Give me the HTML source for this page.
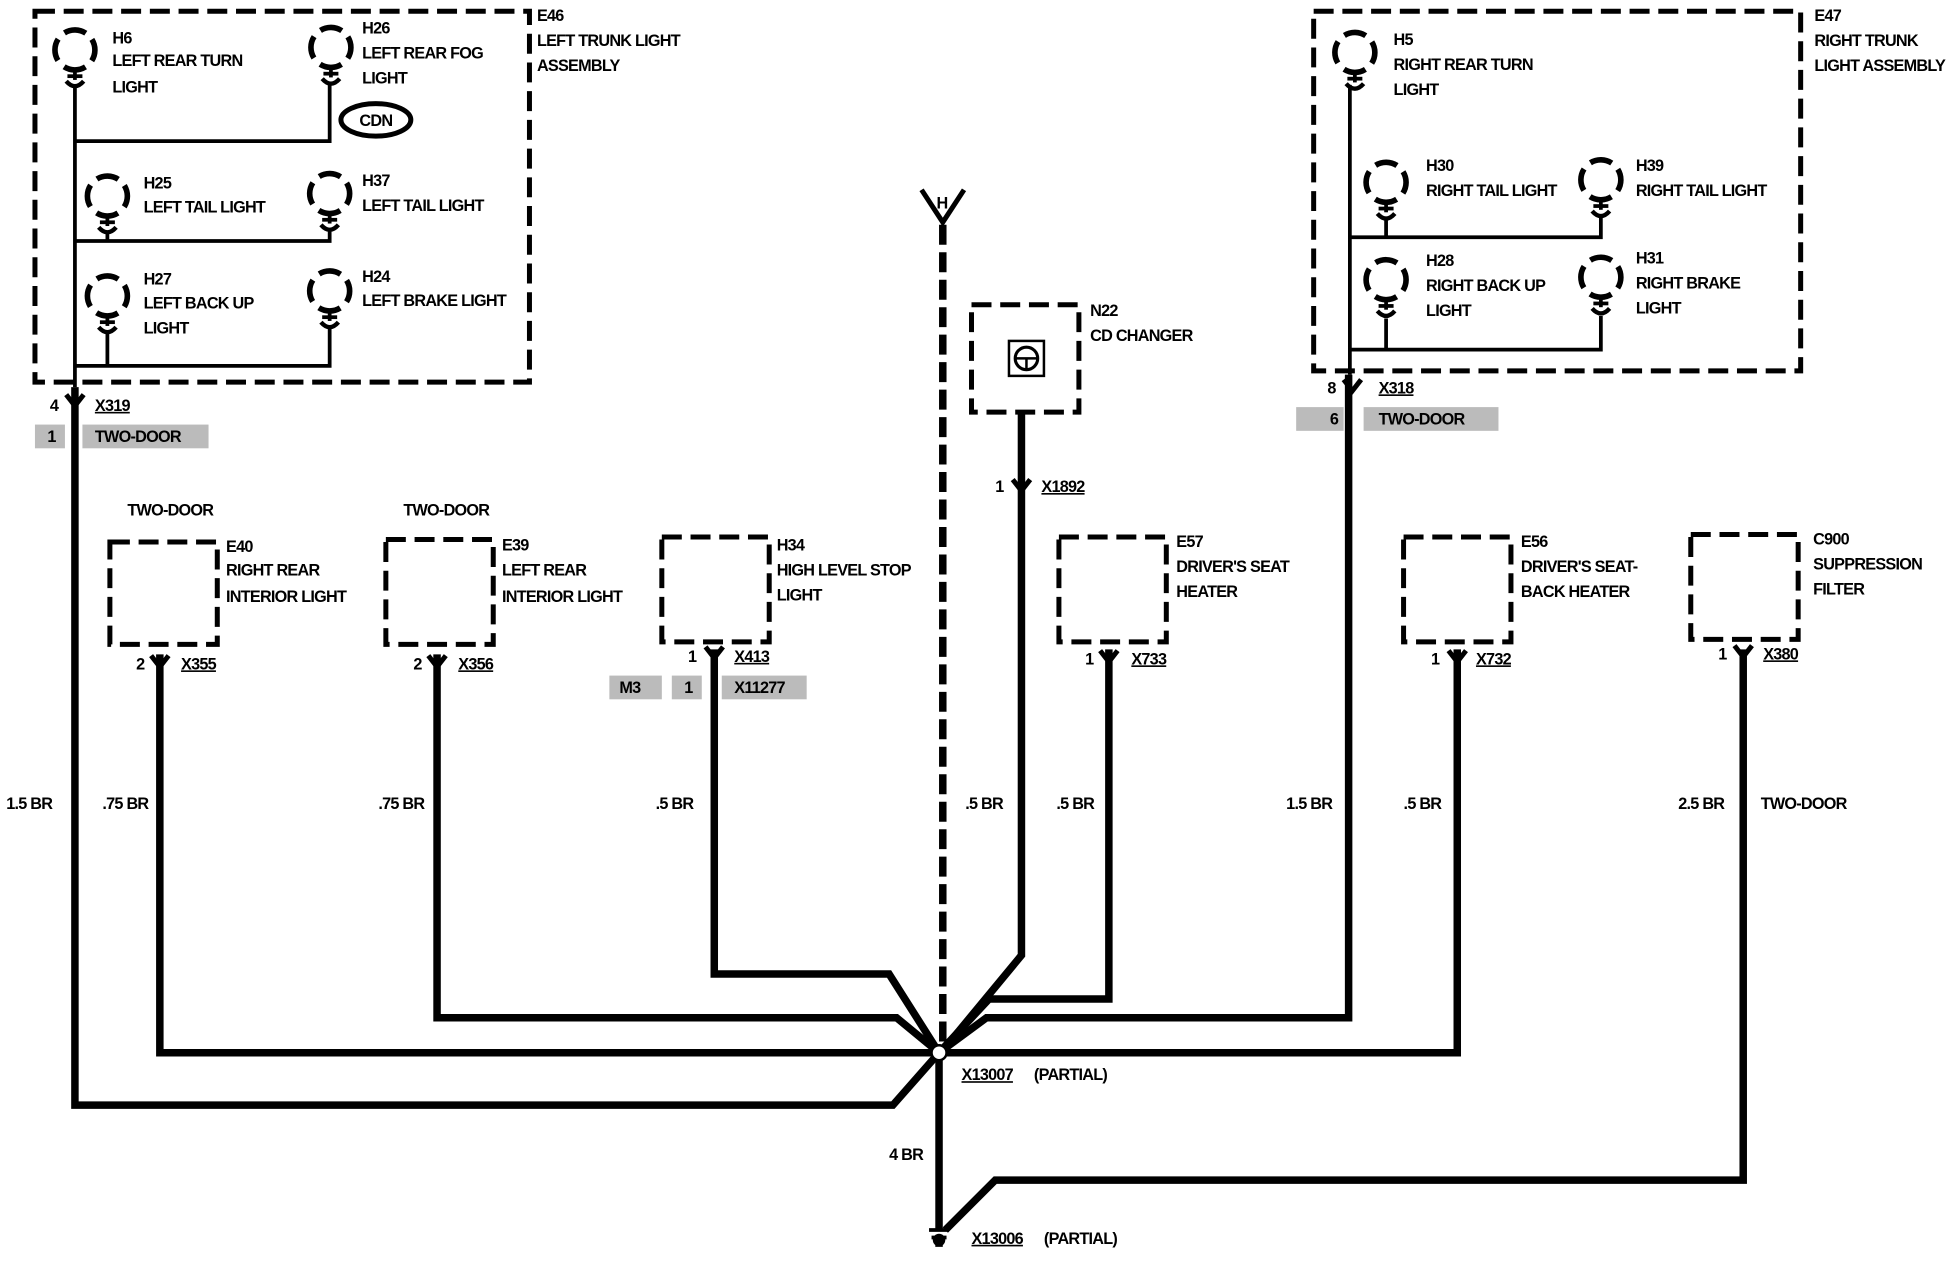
<!DOCTYPE html>
<html><head><meta charset="utf-8"><style>
html,body{margin:0;padding:0;background:#fff}
svg{display:block}
text{font-family:"Liberation Sans",Arial,sans-serif;font-weight:bold;font-size:13px;fill:#000;letter-spacing:-0.6px}
</style></head><body>
<svg width="1958" height="1280" viewBox="0 0 1568 1025" preserveAspectRatio="none" xmlns="http://www.w3.org/2000/svg">
<defs>
<g id="bulb">
<circle cx="0" cy="0" r="16" fill="none" stroke="#000" stroke-width="4.5" stroke-dasharray="18 7.13" transform="rotate(-32)"/>
<line x1="0" y1="16" x2="0" y2="24" stroke="#000" stroke-width="3"/>
<line x1="-6" y1="21" x2="6" y2="21" stroke="#000" stroke-width="3"/>
<path d="M-7 25 Q0 33 7 25" fill="none" stroke="#000" stroke-width="3.5"/>
</g>
<g id="conn">
<path d="M-7 -6 L0 3 L7 -6" fill="none" stroke="#000" stroke-width="4"/>
</g>
</defs>
<g fill="none" stroke="#000" stroke-width="4" stroke-dasharray="16 7">
<rect x="28" y="9" width="396" height="297"/>
<rect x="1052" y="9" width="390" height="288"/>
<rect x="88" y="434" width="86" height="82"/>
<rect x="309" y="432" width="86" height="84"/>
<rect x="530" y="430" width="86" height="84"/>
<rect x="778" y="244" width="86" height="86"/>
<rect x="848" y="430" width="86" height="84"/>
<rect x="1124" y="430" width="86" height="84"/>
<rect x="1354" y="428" width="86" height="84"/>
</g>
<g stroke="#000" stroke-width="3" fill="none">
<path d="M60 68 V310 M264 66 V113 H60 M86 185 V193 M264 183 V193 H60 M86 265 V293 M264 261 V293 H60"/>
<path d="M1081 68 V300 M1110 175 V190 M1282 173 V190 H1081 M1110 255 V280 H1081 M1282 253 V280 H1110"/>
</g>
<use href="#bulb" x="60" y="40"/><use href="#bulb" x="265" y="38"/>
<use href="#bulb" x="86" y="157"/><use href="#bulb" x="264" y="155"/>
<use href="#bulb" x="86" y="237"/><use href="#bulb" x="264" y="233"/>
<use href="#bulb" x="1085" y="42"/>
<use href="#bulb" x="1110" y="146"/><use href="#bulb" x="1282" y="144"/>
<use href="#bulb" x="1110" y="224"/><use href="#bulb" x="1282" y="222"/>
<ellipse cx="301" cy="96" rx="28" ry="13" fill="none" stroke="#000" stroke-width="4"/>
<text x="301" y="101" text-anchor="middle" font-size="15">CDN</text>
<g fill="#bbb"><rect x="28" y="340" width="24" height="19"/><rect x="66" y="340" width="101" height="19"/>
<rect x="1038" y="326" width="38" height="19"/><rect x="1092" y="326" width="108" height="19"/>
<rect x="488" y="541" width="42" height="19"/><rect x="538" y="541" width="24" height="19"/><rect x="578" y="541" width="68" height="19"/></g>
<g stroke="#000" stroke-width="6" fill="none" stroke-linejoin="miter">
<path d="M60 310 V885 H715 L752 843"/>
<path d="M128 524 V843 H752"/>
<path d="M350 524 V815 H718 L752 843"/>
<path d="M572 520 V780 H712 L752 843"/>
<path d="M818 330 V765 L756 840"/>
<path d="M888 520 V800 H792 L752 843"/>
<path d="M1080 300 V815 H790 L752 843"/>
<path d="M1167 520 V843 H752"/>
<path d="M1396 520 V945 H797 L757 985"/>
<path d="M752 843 V985"/>
</g>
<path d="M755 180 V840" stroke="#000" stroke-width="6" stroke-dasharray="16 6"/>
<path d="M738 152 L755 178 L772 152" fill="none" stroke="#000" stroke-width="4"/>
<text x="750" y="167" font-size="12">H</text>
<circle cx="752" cy="843" r="6" fill="#fff" stroke="#000" stroke-width="2"/>
<path d="M744 985 H760 M746 991 H758 M749 997 H755" stroke="#000" stroke-width="3"/>
<circle cx="752" cy="993" r="5" fill="#000"/>
<use href="#conn" x="60" y="322"/><use href="#conn" x="1083" y="310"/>
<use href="#conn" x="128" y="531"/><use href="#conn" x="350" y="531"/><use href="#conn" x="572" y="524"/>
<use href="#conn" x="818" y="390"/><use href="#conn" x="888" y="527"/><use href="#conn" x="1167" y="527"/><use href="#conn" x="1396" y="523"/>
<rect x="808" y="273" width="28" height="28" fill="none" stroke="#000" stroke-width="2"/>
<circle cx="822" cy="287" r="9" fill="none" stroke="#000" stroke-width="2.5"/>
<path d="M813 287 H831 M822 287 V296" stroke="#000" stroke-width="2"/>
<g>
<text x="90" y="35">H6</text><text x="90" y="53">LEFT REAR TURN</text><text x="90" y="74">LIGHT</text>
<text x="290" y="27">H26</text><text x="290" y="47">LEFT REAR FOG</text><text x="290" y="67">LIGHT</text>
<text x="115" y="151">H25</text><text x="115" y="170">LEFT TAIL LIGHT</text>
<text x="290" y="149">H37</text><text x="290" y="169">LEFT TAIL LIGHT</text>
<text x="115" y="228">H27</text><text x="115" y="247">LEFT BACK UP</text><text x="115" y="267">LIGHT</text>
<text x="290" y="226">H24</text><text x="290" y="245">LEFT BRAKE LIGHT</text>
<text x="430" y="17">E46</text><text x="430" y="37">LEFT TRUNK LIGHT</text><text x="430" y="57">ASSEMBLY</text>
<text x="40" y="329">4</text><text x="76" y="329" text-decoration="underline">X319</text>
<text x="38" y="354">1</text><text x="76" y="354">TWO-DOOR</text>
<text x="1116" y="36">H5</text><text x="1116" y="56">RIGHT REAR TURN</text><text x="1116" y="76">LIGHT</text>
<text x="1142" y="137">H30</text><text x="1142" y="157">RIGHT TAIL LIGHT</text>
<text x="1310" y="137">H39</text><text x="1310" y="157">RIGHT TAIL LIGHT</text>
<text x="1142" y="213">H28</text><text x="1142" y="233">RIGHT BACK UP</text><text x="1142" y="253">LIGHT</text>
<text x="1310" y="211">H31</text><text x="1310" y="231">RIGHT BRAKE</text><text x="1310" y="251">LIGHT</text>
<text x="1453" y="17">E47</text><text x="1453" y="37">RIGHT TRUNK</text><text x="1453" y="57">LIGHT ASSEMBLY</text>
<text x="1063" y="315">8</text><text x="1104" y="315" text-decoration="underline">X318</text>
<text x="1065" y="340">6</text><text x="1104" y="340">TWO-DOOR</text>
<text x="102" y="413">TWO-DOOR</text>
<text x="181" y="442">E40</text><text x="181" y="461">RIGHT REAR</text><text x="181" y="482">INTERIOR LIGHT</text>
<text x="323" y="413">TWO-DOOR</text>
<text x="402" y="441">E39</text><text x="402" y="461">LEFT REAR</text><text x="402" y="482">INTERIOR LIGHT</text>
<text x="622" y="441">H34</text><text x="622" y="461">HIGH LEVEL STOP</text><text x="622" y="481">LIGHT</text>
<text x="873" y="253">N22</text><text x="873" y="273">CD CHANGER</text>
<text x="942" y="438">E57</text><text x="942" y="458">DRIVER'S SEAT</text><text x="942" y="478">HEATER</text>
<text x="1218" y="438">E56</text><text x="1218" y="458">DRIVER'S SEAT-</text><text x="1218" y="478">BACK HEATER</text>
<text x="1452" y="436">C900</text><text x="1452" y="456">SUPPRESSION</text><text x="1452" y="476">FILTER</text>
<text x="109" y="536">2</text><text x="145" y="536" text-decoration="underline">X355</text>
<text x="331" y="536">2</text><text x="367" y="536" text-decoration="underline">X356</text>
<text x="551" y="530">1</text><text x="588" y="530" text-decoration="underline">X413</text>
<text x="496" y="555">M3</text><text x="548" y="555">1</text><text x="588" y="555">X11277</text>
<text x="797" y="394">1</text><text x="834" y="394" text-decoration="underline">X1892</text>
<text x="869" y="532">1</text><text x="906" y="532" text-decoration="underline">X733</text>
<text x="1146" y="532">1</text><text x="1182" y="532" text-decoration="underline">X732</text>
<text x="1376" y="528">1</text><text x="1412" y="528" text-decoration="underline">X380</text>
<text x="5" y="648">1.5 BR</text><text x="82" y="648">.75 BR</text><text x="303" y="648">.75 BR</text>
<text x="525" y="648">.5 BR</text><text x="773" y="648">.5 BR</text><text x="846" y="648">.5 BR</text>
<text x="1030" y="648">1.5 BR</text><text x="1124" y="648">.5 BR</text><text x="1344" y="648">2.5 BR</text>
<text x="1410" y="648">TWO-DOOR</text>
<text x="770" y="865" text-decoration="underline">X13007</text><text x="828" y="865">(PARTIAL)</text>
<text x="712" y="929">4 BR</text>
<text x="778" y="996" text-decoration="underline">X13006</text><text x="836" y="996">(PARTIAL)</text>
</g>
</svg>
</body></html>
